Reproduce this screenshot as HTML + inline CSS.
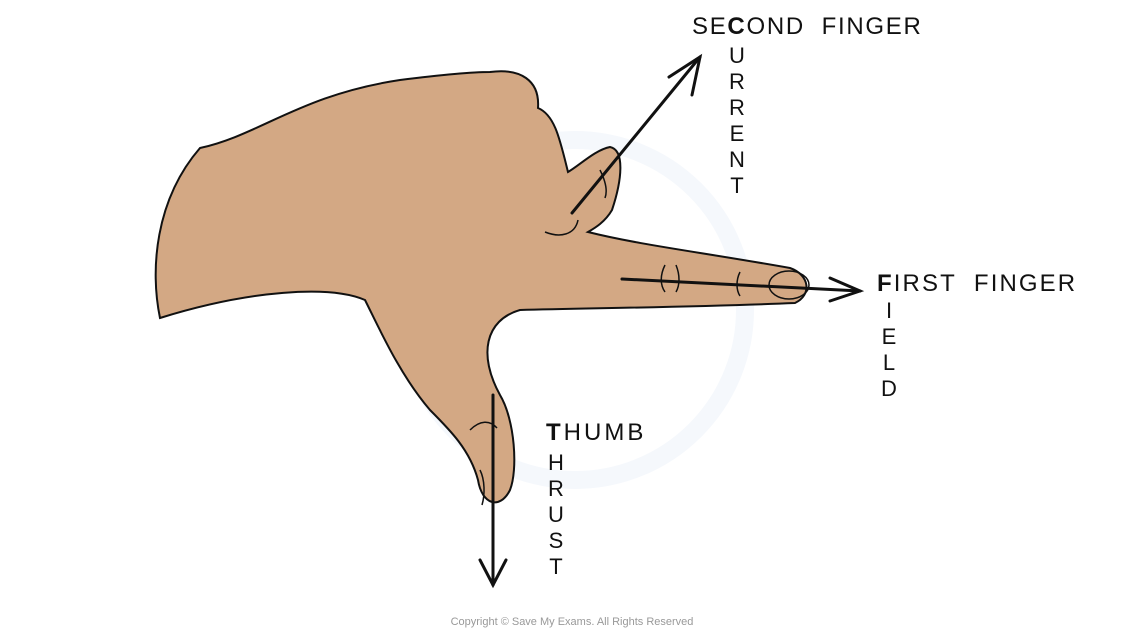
<!DOCTYPE html>
<html><head><meta charset="utf-8"><style>
html,body{margin:0;padding:0;background:#fff;}
body{width:1144px;height:634px;position:relative;overflow:hidden;font-family:"Liberation Sans",sans-serif;}
.t{position:absolute;font-size:24px;color:#111;letter-spacing:1.7px;line-height:1;}
.v{position:absolute;font-size:22px;color:#111;line-height:26px;width:20px;text-align:center;}
.cp{position:absolute;left:0;width:1144px;top:616px;text-align:center;font-size:11px;color:#999;}
</style></head><body>
<svg width="1144" height="634" style="position:absolute;left:0;top:0">
<circle cx="575" cy="310" r="170" fill="none" stroke="#f5f8fc" stroke-width="18"/>
<path d="M160,318 C150,270 155,200 200,148 C260,135 300,95 400,80 C440,75 470,72 490,72 C520,68 540,80 538,108 C555,115 560,140 568,172 C580,165 595,150 610,147 C625,150 622,180 612,210 C605,222 595,228 588,232 C640,245 700,252 790,268 C810,275 812,295 795,303 C700,307 600,308 520,310 C485,320 478,355 500,395 C515,420 518,470 510,490 C500,510 482,505 478,480 C470,450 450,430 430,410 C400,375 380,330 365,300 C330,285 250,290 160,318 Z" fill="#d3a884" stroke="#111" stroke-width="2"/>
<path d="M545,232 C560,238 575,235 578,220" fill="none" stroke="#111" stroke-width="1.5"/>
<ellipse cx="789" cy="285" rx="20" ry="14" fill="none" stroke="#111" stroke-width="1.5"/>
<path d="M665,265 C660,275 660,285 665,292 M676,265 C680,275 680,285 676,292 M740,272 C736,280 736,290 740,296 M600,170 C605,180 608,190 605,198" fill="none" stroke="#111" stroke-width="1.5"/>
<path d="M470,430 C480,420 490,420 497,428 M480,470 C485,480 485,495 482,505" fill="none" stroke="#111" stroke-width="1.5"/>
<g stroke="#111" stroke-width="3" fill="none" stroke-linecap="round">
<line x1="572" y1="213" x2="700" y2="57"/>
<path d="M669,77 L700,57 L692,95"/>
<line x1="622" y1="279" x2="860" y2="291"/>
<path d="M830,278 L860,291 L830,301"/>
<line x1="493" y1="395" x2="493" y2="585"/>
<path d="M480,560 L493,585 L506,560"/>
</g>
</svg>
<div class="t" style="left:692px;top:15px">SE<b>C</b>OND &nbsp;FINGER</div>
<div class="v" style="left:727px;top:43px">U<br>R<br>R<br>E<br>N<br>T</div>
<div class="t" style="left:877px;top:272px;letter-spacing:2.1px"><b>F</b>IRST &nbsp;FINGER</div>
<div class="v" style="left:879px;top:298px">I<br>E<br>L<br>D</div>
<div class="t" style="left:546px;top:421px;letter-spacing:3px"><b>T</b>HUMB</div>
<div class="v" style="left:546px;top:450px">H<br>R<br>U<br>S<br>T</div>
<div class="cp">Copyright © Save My Exams. All Rights Reserved</div>
</body></html>
